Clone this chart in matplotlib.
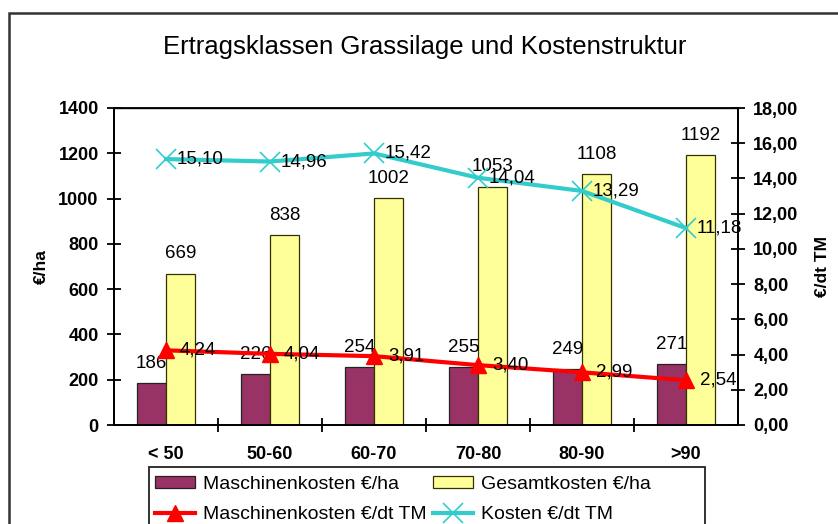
import matplotlib
matplotlib.use('Agg')

import matplotlib.pyplot as plt
import numpy as np
from matplotlib.patches import Rectangle

plt.rcParams['font.family'] = ['Liberation Sans', 'DejaVu Sans']

# Ertragsklassen (dt TM/ha)
klassen = ['< 50', '50-60', '60-70', '70-80', '80-90', '>90']
maschinen_ha = [186, 226, 254, 255, 249, 271]
gesamt_ha = [669, 838, 1002, 1053, 1108, 1192]
maschinen_dt = [4.24, 4.04, 3.91, 3.40, 2.99, 2.54]
kosten_dt = [15.10, 14.96, 15.42, 14.04, 13.29, 11.18]

y_left_ticks = [0, 200, 400, 600, 800, 1000, 1200, 1400]
y_right_ticks = [0, 2, 4, 6, 8, 10, 12, 14, 16, 18]


def de_fmt(v):
    return f'{v:.2f}'.replace('.', ',')


fig = plt.figure(figsize=(8.38, 5.24), dpi=100)
W, H = 838, 524

# Rahmen um das gesamte Diagramm
fig.patches.append(Rectangle((9 / W, -0.1), 1.0, 1 - 13 / H + 0.1,
                             transform=fig.transFigure, fill=False,
                             edgecolor='#333333', linewidth=1.8))

ax = fig.add_axes([114 / W, 1 - 425 / H, 624 / W, 317 / H])
ax2 = ax.twinx()

x = np.arange(len(klassen))
w = 0.28
b1 = ax.bar(x - w / 2, maschinen_ha, w, color='#993366', edgecolor='#222222',
            linewidth=0.9, label='Maschinenkosten €/ha', zorder=2)
b2 = ax.bar(x + w / 2, gesamt_ha, w, color='#FFFF99', edgecolor='#333300',
            linewidth=0.9, label='Gesamtkosten €/ha', zorder=2)

for xi, v in zip(x - w / 2, maschinen_ha):
    ax.annotate(str(v), (xi, v), xytext=(0, 8), textcoords='offset points',
                ha='center', va='bottom', fontsize=13.5)
for xi, v in zip(x + w / 2, gesamt_ha):
    ax.annotate(str(v), (xi, v), xytext=(0, 8), textcoords='offset points',
                ha='center', va='bottom', fontsize=13.5)

l1, = ax2.plot(x, maschinen_dt, color='#FF0000', linewidth=3, marker='^',
               markersize=12, label='Maschinenkosten €/dt TM', zorder=3)
l2, = ax2.plot(x, kosten_dt, color='#33CCCC', linewidth=3, marker='x',
               markersize=14, markeredgewidth=1.2, label='Kosten €/dt TM', zorder=3)

for xi, v in zip(x, maschinen_dt):
    ax2.annotate(de_fmt(v), (xi, v), xytext=(10, 0), textcoords='offset points',
                 ha='left', va='center', fontsize=13.5)
for xi, v in zip(x, kosten_dt):
    ax2.annotate(de_fmt(v), (xi, v), xytext=(8, 0), textcoords='offset points',
                 ha='left', va='center', fontsize=13.5)

ax.set_xlim(-0.5, len(klassen) - 0.5)
ax.set_ylim(0, 1400)
ax2.set_ylim(0, 18)

ax.set_xticks(x)
ax.set_xticklabels(klassen, fontsize=13, fontweight='bold')
ax.tick_params(axis='x', which='major', length=0, pad=15)
ax.set_xticks(np.arange(0.5, len(klassen) - 0.5, 1), minor=True)
ax.tick_params(axis='x', which='minor', direction='inout', length=10, width=1.3)

ax.set_yticks(y_left_ticks)
ax.set_yticklabels([str(t) for t in y_left_ticks], fontsize=13, fontweight='bold')
ax.tick_params(axis='y', direction='inout', length=10, width=1.3, pad=6)

ax2.set_yticks(y_right_ticks)
ax2.set_yticklabels([de_fmt(t) for t in y_right_ticks], fontsize=13, fontweight='bold')
ax2.tick_params(axis='y', direction='inout', length=10, width=1.3, pad=6)

for a in (ax, ax2):
    for s in a.spines.values():
        s.set_linewidth(1.3)
ax.spines['top'].set_linewidth(1.0)

ax.set_ylabel('€/ha', fontsize=12.5, fontweight='bold', labelpad=7)
ax2.set_ylabel('€/dt TM', fontsize=12.5, fontweight='bold', rotation=90, labelpad=12)

fig.text(0.507, 1 - 47 / H, 'Ertragsklassen Grassilage und Kostenstruktur',
         ha='center', va='center', fontsize=18.5)

# Legendenrahmen separat, damit er rechts breiter ist als der Inhalt
fig.patches.append(Rectangle((149 / W, -0.1), (705 - 149) / W, 1 - 467 / H + 0.1,
                             transform=fig.transFigure, fill=False,
                             edgecolor='#222222', linewidth=1.3))

# ncol=2 füllt spaltenweise: Balken oben, Linien unten
leg = fig.legend([b1, l1, b2, l2],
                 [b1.get_label(), l1.get_label(), b2.get_label(), l2.get_label()],
                 loc='upper left', bbox_to_anchor=(155 / W, 1 - 476 / H),
                 ncol=2, fontsize=14, frameon=False,
                 handlelength=2.05, handleheight=0.55,
                 columnspacing=0.35, borderpad=0, labelspacing=0.68,
                 handletextpad=0.4, borderaxespad=0)

fig.savefig('out.png', dpi=100)
